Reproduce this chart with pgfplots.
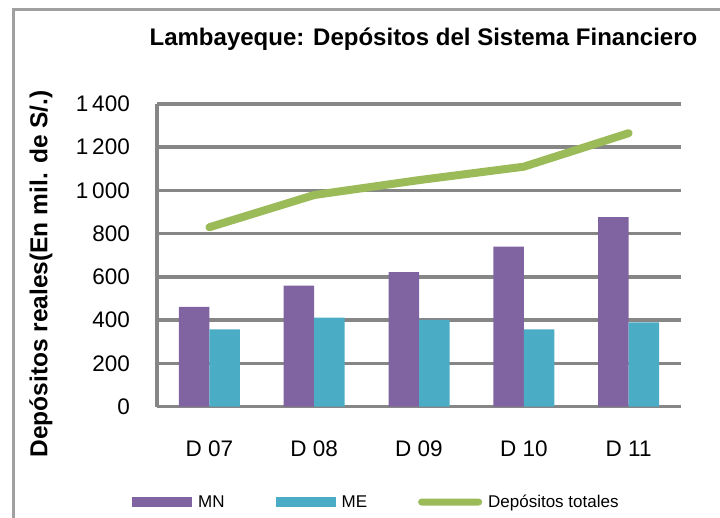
\documentclass[border=0pt]{standalone}
\usepackage{pgfplots}
\pgfplotsset{compat=1.18}
\usepackage{fontspec}
\setmainfont{Liberation Sans}
\definecolor{mnc}{HTML}{8064A2}
\definecolor{mec}{HTML}{4BACC6}
\definecolor{totc}{HTML}{9BBB59}
\definecolor{gridc}{HTML}{868686}
\definecolor{framec}{HTML}{A0A0A0}
\begin{document}
\begin{tikzpicture}
\useasboundingbox (0,0) rectangle (720bp,518bp);
\draw[framec, line width=2.5bp] (13.5bp,0) -- (13.5bp,508.5bp) -- (720bp,508.5bp);
\begin{axis}[
  at={(157bp,111.3bp)}, anchor=south west,
  scale only axis, width=524bp, height=302.7bp,
  xmin=-0.5, xmax=4.5, ymin=0, ymax=1400,
  axis x line*=bottom, axis y line*=left,
  axis line style={gridc, line width=3.5bp, -},
  ymajorgrids, grid style={gridc, line width=3.5bp},
  ytick={0,200,...,1400}, xtick={0,1,2,3,4},
  xticklabels={D 07,D 08,D 09,D 10,D 11},
  major tick length=0pt,
  tick style={draw=none},
  /pgf/number format/assume math mode=true,
  /pgf/number format/1000 sep={\,},
  yticklabel style={font=\fontsize{22.5bp}{26bp}\selectfont, anchor=east, inner sep=0pt, xshift=-27bp},
  xticklabel style={font=\fontsize{22.5bp}{26bp}\selectfont, anchor=north, inner sep=0pt, text height=16.5bp, text depth=0pt, yshift=-33bp},
  title={Lambayeque: Depósitos del Sistema Financiero},
  title style={font=\bfseries\fontsize{24bp}{28bp}\selectfont, at={(axis description cs:0.5086,1.172)}, anchor=base, inner sep=0pt},
  ylabel={Depósitos reales(En mil. de S/.)},
  ylabel style={font=\bfseries\fontsize{24.5bp}{28bp}\selectfont, at={(axis description cs:-0.2215,0.4384)}, anchor=center, inner sep=0pt},
  legend columns=-1,
  legend style={draw=none, fill=none, at={(axis description cs:-0.0477,-0.315)}, anchor=west, inner sep=0pt,
    font=\fontsize{17bp}{20bp}\selectfont, nodes={inner sep=0pt},
    /tikz/every odd column/.append style={column sep=6bp},
    /tikz/every even column/.append style={column sep=51bp}},
]
\addplot[ybar, bar width=30.5bp, bar shift=-15.25bp, fill=mnc, draw=none,
  legend image code/.code={\fill[mnc, draw=none] (0bp,-5bp) rectangle (60bp,5bp);}]
  coordinates {(0,462) (1,560) (2,622) (3,740) (4,877)};
\addlegendentry{MN}
\addplot[ybar, bar width=30.5bp, bar shift=15.25bp, fill=mec, draw=none,
  legend image code/.code={\fill[mec, draw=none] (0bp,-5bp) rectangle (60bp,5bp);}]
  coordinates {(0,358) (1,412) (2,401) (3,358) (4,390)};
\addlegendentry{ME}
\addplot[totc, line width=8bp, line cap=round, line join=round, mark=none,
  legend image code/.code={\fill[totc, draw=none, line width=0pt, rounded corners=3.4bp] (0bp,-3.5bp) rectangle (64bp,3.5bp);}]
  coordinates {(0,830) (1,979) (2,1048) (3,1110) (4,1265)};
\addlegendentry{Depósitos totales}
\end{axis}
\end{tikzpicture}
\end{document}
